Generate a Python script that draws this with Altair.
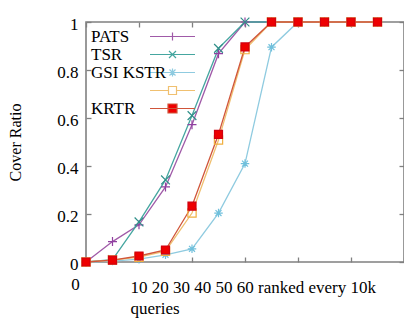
import altair as alt
import pandas as pd

series = ["PATS", "TSR", "GSI", "KSTR", "KRTR"]
steps = list(range(12))
pats = [0.0, 0.085, 0.155, 0.313, 0.572, 0.868, 1.0, 1.0, 1.0, 1.0, 1.0, 1.0]
tsr = [0.0, 0.01, 0.167, 0.342, 0.61, 0.89, 1.0, 1.0, 1.0, 1.0, 1.0, 1.0]
gsi = [0.0, 0.004, 0.012, 0.03, 0.055, 0.204, 0.41, 0.895, 1.0, 1.0, 1.0, 1.0]
kstr = [0.0, 0.008, 0.02, 0.045, 0.204, 0.508, 0.885, 1.0, 1.0, 1.0, 1.0, 1.0]
krtr = [0.0, 0.008, 0.025, 0.05, 0.233, 0.532, 0.896, 1.0, 1.0, 1.0, 1.0, 1.0]
values = {"PATS": pats, "TSR": tsr, "GSI": gsi, "KSTR": kstr, "KRTR": krtr}

rows = []
for s in series:
    for i, v in zip(steps, values[s]):
        rows.append({"i": i, "v": v, "s": s})
df = pd.DataFrame(rows)

line_colors = ["#a05aa8", "#45a6a0", "#8fcbe0", "#f0c070", "#d0553a"]
marker_colors = ["#9040a0", "#30908a", "#70c0dc", "#f0b040", "#d00010"]
marker_fills = ["transparent", "transparent", "transparent", "transparent", "#ee0000"]
marker_shapes = [
    "M-1,0H1M0,-1V1",
    "M-1,-1L1,1M-1,1L1,-1",
    "M-1,0H1M0,-1V1M-0.7,-0.7L0.7,0.7M-0.7,0.7L0.7,-0.7",
    "square",
    "square",
]
marker_sizes = [81, 64, 90, 80, 150]
legend_shapes = [
    "M-4.5,0H4.5M0,-0.8V0.8",
    "M-4.5,0H4.5M-0.7,-0.7L0.7,0.7M-0.7,0.7L0.7,-0.7",
    "M-4.5,0H4.5M0,-0.8V0.8M-0.6,-0.6L0.6,0.6M-0.6,0.6L0.6,-0.6",
    "M-4.5,0H-0.8M0.8,0H4.5M-0.8,-0.8H0.8V0.8H-0.8Z",
    "M-4.5,0H4.5M-0.9,-0.9H0.9V0.9H-0.9Z",
]
x_ticks = [0, 2, 4, 6, 8, 10, 12]
y_ticks = [0, 0.2, 0.4, 0.6, 0.8, 1]
x_title = ["10 20 30 40 50 60 ranked every 10k", "queries"]
y_title = "Cover Ratio"

FONT = "Liberation Serif"
xscale = alt.Scale(domain=[0, 12], nice=False, zero=False)
yscale = alt.Scale(domain=[0, 1], nice=False)

base = alt.Chart(df)

lines = base.mark_line(strokeWidth=1.3).encode(
    x=alt.X("i:Q", scale=xscale, axis=alt.Axis(
        orient="bottom", offset=-5, values=x_ticks, tickSize=5, domain=False, grid=False,
        labelExpr="datum.value == 0 ? '0' : ''", labelOffset={"expr": "-11"}, labelPadding=14,
        labelBaseline="top", labelAlign="center", labelFlush=False, labelOverlap=False,
        title=x_title, titleX=44, titleY=35, titleAlign="left", titleAnchor="start",
        titleBaseline="alphabetic", titleLineHeight=21, titleFontWeight="normal", titleFontSize=17)),
    y=alt.Y("v:Q", scale=yscale, axis=alt.Axis(
        orient="left", offset=-5, values=y_ticks, tickSize=5, domain=False, grid=False,
        labelPadding=8, labelBaseline="middle", labelOffset=2, labelFlush=False, labelOverlap=False,
        labelExpr="datum.value == 0 || datum.value == 1 ? format(datum.value, 'd') : format(datum.value, '.1f')",
        title=y_title, titleX=-76, titleY=120, titleBaseline="middle", titleAlign="center",
        titleFontSize=16, titleFontWeight="normal")),
    stroke=alt.Stroke("s:N", scale=alt.Scale(domain=series, range=line_colors), legend=None),
    order="i:Q",
)

points = base.mark_point(strokeWidth=1.2, opacity=1).encode(
    x=alt.X("i:Q", scale=xscale, axis=alt.Axis(
        orient="top", offset=-5, values=x_ticks, tickSize=5, domain=False, grid=False,
        labels=False, title=None)),
    y=alt.Y("v:Q", scale=yscale, axis=alt.Axis(
        orient="right", offset=-5, values=y_ticks, tickSize=5, domain=False, grid=False,
        labels=False, title=None)),
    shape=alt.Shape("s:N", scale=alt.Scale(domain=series, range=marker_shapes), legend=None),
    stroke=alt.Stroke("s:N", scale=alt.Scale(domain=series, range=marker_colors), legend=None),
    fill=alt.Fill("s:N", scale=alt.Scale(domain=series, range=marker_fills), legend=None),
    size=alt.Size("s:N", scale=alt.Scale(domain=series, range=marker_sizes), legend=None),
)

leg = alt.Legend(
    title=None, orient="none", legendX=78, legendY=6, padding=0,
    labelFont=FONT, labelFontSize=17, labelColor="black", labelAlign="left",
    labelOffset={"expr": "-90"}, labelLimit=0, symbolSize=100, symbolStrokeWidth=1.2, rowPadding=0,
    labelExpr="datum.label == 'GSI' ? 'GSI KSTR' : (datum.label == 'KSTR' ? '' : datum.label)",
)

legend_layer = base.transform_filter("false").mark_point(size=100, strokeWidth=1.2, opacity=1).encode(
    x=alt.X("i:Q", scale=xscale, axis=None),
    y=alt.Y("v:Q", scale=yscale, axis=None),
    shape=alt.Shape("s:N", scale=alt.Scale(domain=series, range=legend_shapes), legend=leg),
    stroke=alt.Stroke("s:N", scale=alt.Scale(domain=series, range=line_colors), legend=leg),
    fill=alt.Fill("s:N", scale=alt.Scale(domain=series, range=marker_fills), legend=leg),
)

chart = alt.layer(lines, points, legend_layer).resolve_scale(
    stroke="independent", shape="independent", fill="independent", size="independent"
).resolve_axis(x="independent", y="independent").properties(
    width=318, height=240,
    padding={"left": 86, "top": 22, "right": 0, "bottom": 58},
    autosize=alt.AutoSizeParams(type="none"),
    background="white",
).configure_axis(
    labelFont=FONT, titleFont=FONT, labelFontSize=17, labelColor="black", titleColor="black",
    tickColor="#808080", tickWidth=1.3,
).configure_view(stroke="#808080", strokeWidth=1.6)

chart.save("out.html", embed_options={"renderer": "svg", "actions": False})
